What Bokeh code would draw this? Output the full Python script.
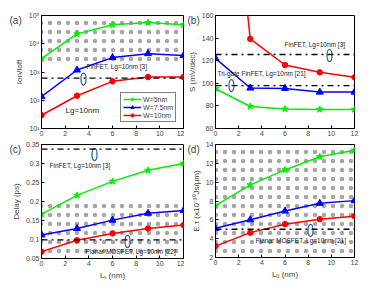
from bokeh.plotting import figure
from bokeh.layouts import column, row
from bokeh.models import Span, Legend, LegendItem, FixedTicker, Range1d
from bokeh.embed import file_html
from bokeh.resources import INLINE

# ---------------- data ----------------
ls = [0, 3, 6, 9, 12]
# (a) Ion/Ioff (log10 values)
a_w5 = [10**3.47, 10**4.35, 10**4.67, 10**4.75, 10**4.67]
a_w75 = [10**2.13, 10**3.07, 10**3.51, 10**3.65, 10**3.58]
a_w10 = [10**1.47, 10**2.16, 10**2.67, 10**2.82, 10**2.82]
a_ref = 10**2.78
a_hatch = [10**3.29, 10**5]
# (b) S (mV/dec)
b_w5 = [95.2, 79.5, 77.2, 76.9, 76.9]
b_w75 = [122.0, 95.8, 95.5, 92.2, 92.2]
b_w10 = [430.0, 139.3, 116.2, 109.7, 105.3]
b_ref = [125.5, 98.0]
# (c) Delay (ps)
c_w5 = [0.167, 0.216, 0.253, 0.282, 0.300]
c_w75 = [0.112, 0.129, 0.151, 0.169, 0.176]
c_w10 = [0.068, 0.098, 0.116, 0.129, 0.138]
c_ref = [0.338, 0.099]
c_hatch = [0.05, 0.195]
# (d) E.tau
d_w5 = [7.5, 9.71, 11.3, 12.7, 13.4]
d_w75 = [5.1, 6.0, 6.93, 7.75, 8.04]
d_w10 = [3.21, 4.64, 5.54, 6.07, 6.39]
d_ref = 5.0
d_hatch = [2, 14]

legend_labels = ["W=5nm", "W=7.5nm", "W=10nm"]
x_ticks = [0, 2, 4, 6, 8, 10, 12]

FONT = "Liberation Sans"
GREEN = "#00ee00"
BLUE = "#0000ff"
RED = "#ff0000"
ELL = "#2f5f8f"


def make_fig(fw, fh, bl, br, bt, bb, y_range, log=False):
    p = figure(frame_width=fw, frame_height=fh, min_border_left=bl, min_border_right=br,
               min_border_top=bt, min_border_bottom=bb, x_range=Range1d(0, 12),
               y_range=y_range, y_axis_type="log" if log else "linear",
               output_backend="svg", toolbar_location=None)
    p.xgrid.visible = False
    p.ygrid.visible = False
    p.outline_line_color = "black"
    p.outline_line_width = 1
    for ax in (p.xaxis[0], p.yaxis[0]):
        ax.major_tick_in = 3
        ax.major_tick_out = 0
        ax.minor_tick_line_color = None
        ax.major_label_text_font = FONT
        ax.major_label_text_font_size = "7px"
        ax.major_label_standoff = 2
        ax.axis_label_text_font = FONT
        ax.axis_label_text_font_size = "8px"
        ax.axis_label_text_font_style = "normal"
        ax.axis_label_standoff = 2
        ax.axis_line_color = "black"
    p.xaxis.ticker = FixedTicker(ticks=x_ticks)
    return p


def add_series(p, ys5, ys75, ys10):
    r = []
    for ys, col, mk in ((ys5, GREEN, "star"), (ys75, BLUE, "triangle"), (ys10, RED, "circle")):
        l = p.line(ls, ys, line_color=col, line_width=1.5)
        s = p.scatter(ls, ys, marker=mk, size=7 if mk != "circle" else 5.5,
                      line_color=col, fill_color=col)
        r.append((l, s))
    return r


def dashdot(p, y):
    p.add_layout(Span(location=y, dimension="width", line_color="black",
                      line_width=1.3, line_dash="dashdot"))


def txt(p, x, y, t, size="6.5px"):
    p.text([x], [y], text=[t], text_font={"value": FONT}, text_font_size=size,
           text_baseline="middle", text_align="left", text_color="#222222")


def ellipse(p, x, y):
    p.ellipse([x], [y], width=5, height=12, width_units="screen", height_units="screen",
              fill_color=None, line_color=ELL, line_width=1.2)


def hatch(p, y0, y1):
    p.quad(left=[0], right=[12], bottom=[y0], top=[y1], fill_alpha=0, line_color=None,
           hatch_pattern=".", hatch_color="black", hatch_scale=9, hatch_weight=0.2,
           hatch_alpha=0.35)


def panel_label(p, t, off):
    p.title.text = t
    p.title.align = "left"
    p.title.offset = off
    p.title.text_font = FONT
    p.title.text_font_size = "10px"
    p.title.text_font_style = "normal"
    p.title.standoff = -20


# ---------------- (a) ----------------
pa = make_fig(142, 113, 41, 1, 15, 10, Range1d(10**1, 10**5), log=True)
pa.yaxis.ticker = FixedTicker(ticks=[10, 100, 1000, 10000, 100000])
pa.yaxis.major_label_overrides = {10: "10¹", 100: "10²", 1000: "10³", 10000: "10⁴", 100000: "10⁵"}
pa.yaxis.axis_label = "Ion/Ioff"
hatch(pa, a_hatch[0], a_hatch[1])
dashdot(pa, a_ref)
ra = add_series(pa, a_w5, a_w75, a_w10)
txt(pa, 3.8, 10**3.18, "FinFET, Lg=10nm [3]")
txt(pa, 2.03, 10**1.65, "Lg=10nm", "8px")
ellipse(pa, 3.55, 10**2.75)
leg = Legend(items=[LegendItem(label=lab, renderers=list(rr)) for lab, rr in zip(legend_labels, ra)],
             location=(79, 6), glyph_width=18, glyph_height=8, label_height=8,
             label_text_font=FONT, label_text_font_size="7px", spacing=0, padding=2,
             margin=0, label_standoff=2, border_line_color="black", border_line_width=1,
             background_fill_color="white", background_fill_alpha=1)
pa.add_layout(leg, "center")
panel_label(pa, "(a)", -32)

# ---------------- (b) ----------------
pb = make_fig(139, 113, 31, 10, 15, 10, Range1d(60, 160))
pb.yaxis.ticker = FixedTicker(ticks=[60, 80, 100, 120, 140, 160])
pb.yaxis.axis_label = "S (mV/dec)"
dashdot(pb, b_ref[0])
dashdot(pb, b_ref[1])
add_series(pb, b_w5, b_w75, b_w10)
txt(pb, 5.96, 134.3, "FinFET, Lg=10nm [3]")
txt(pb, 0.17, 108.7, "Tri-gate FinFET, Lg=10nm [21]")
ellipse(pb, 9.84, 124.6)
ellipse(pb, 1.38, 98.0)
panel_label(pb, "(b)", -28)

# ---------------- (c) ----------------
pc = make_fig(142, 114, 41, 1, 5, 22, Range1d(0.05, 0.35))
pc.yaxis.ticker = FixedTicker(ticks=[0.05, 0.1, 0.15, 0.2, 0.25, 0.3, 0.35])
pc.yaxis.axis_label = "Delay (ps)"
pc.xaxis.axis_label = "Lₛ (nm)"
hatch(pc, c_hatch[0], c_hatch[1])
dashdot(pc, c_ref[0])
dashdot(pc, c_ref[1])
add_series(pc, c_w5, c_w75, c_w10)
txt(pc, 0.68, 0.295, "FinFET, Lg=10nm [3]")
txt(pc, 3.7, 0.068, "Planar MOSFET, Lg=10nm [22]")
ellipse(pc, 4.48, 0.324)
ellipse(pc, 7.27, 0.095)
panel_label(pc, "(c)", -32)

# ---------------- (d) ----------------
pd_ = make_fig(139, 113, 31, 10, 6, 22, Range1d(2, 14))
pd_.yaxis.ticker = FixedTicker(ticks=[2, 4, 6, 8, 10, 12, 14])
pd_.yaxis.axis_label = "E.τ (x10⁻³⁰Js/μm)"
pd_.xaxis.axis_label = "Lᵤ (nm)"
hatch(pd_, d_hatch[0], d_hatch[1])
dashdot(pd_, d_ref)
add_series(pd_, d_w5, d_w75, d_w10)
txt(pd_, 3.45, 3.8, "Planar MOSFET, Lg=10nm [21]")
ellipse(pd_, 8.2, 4.87)
panel_label(pd_, "(d)", -28)

layout = column(row(pa, pb), row(pc, pd_))
open("out.html", "w").write(file_html(layout, INLINE))
